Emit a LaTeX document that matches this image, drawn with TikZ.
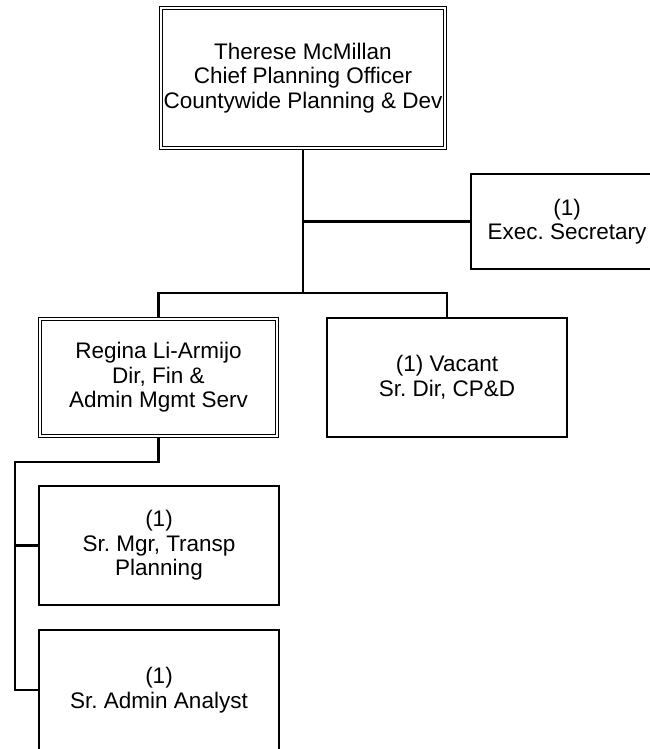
\documentclass[tikz,border=0pt]{standalone}
\usepackage{fontspec}
\setmainfont{Liberation Sans}
\usepackage{tikz}
\frenchspacing

\tikzset{
    post/.style={draw, line width=2pt, fill=white, inner sep=0pt,
        align=center, font=\fontsize{22.5}{24.5}\selectfont},
    headpost/.style={post, line width=1.2pt, double, double distance=2.3pt,
        outer sep=2.3pt},
    link/.style={line width=2.2pt}
}

\begin{document}
\begin{tikzpicture}[x=1pt, y=-1pt]

        \useasboundingbox (0,0) rectangle (650,749);

        %% ── Direction ─────────────────────────────────────────────────────
        \node[headpost, minimum width=284, minimum height=140] (ceo) at (303,78)
            {Therese McMillan\\Chief Planning Officer\\Countywide Planning \& Dev};
        \node[post, minimum width=192, minimum height=95] (sec) at (567,221.5)
            {(1)\\Exec. Secretary};

        %% ── Second niveau ─────────────────────────────────────────────────
        \node[headpost, minimum width=237, minimum height=117] (fin) at (158.5,377.5)
            {Regina Li-Armijo\\Dir, Fin \&\\Admin Mgmt Serv};
        \node[post, minimum width=240, minimum height=119] (vac) at (447,377.5)
            {(1) Vacant\\Sr. Dir, CP\&D};

        %% ── Équipe Fin & Admin ────────────────────────────────────────────
        \node[post, minimum width=240, minimum height=119] (tpm) at (159,545.5)
            {(1)\\Sr. Mgr, Transp\\Planning};
        \node[post, minimum width=240, minimum height=120] (ana) at (159,690)
            {(1)\\Sr. Admin Analyst};

        %% ── Liaisons ──────────────────────────────────────────────────────
        \coordinate (bus) at (303,293);
        \coordinate (rail) at (15,462);
        \draw[link] (ceo.south) -- (bus);
        \draw[link] (ceo.south |- sec.west) -- (sec.west);
        \draw[link] (fin.north) |- (bus) -| (vac.north);
        \draw[link] (fin.south) |- (rail) -- (rail |- ana.west) -- (ana.west);
        \draw[link] (rail |- tpm.west) -- (tpm.west);

    \end{tikzpicture}
\end{document}
